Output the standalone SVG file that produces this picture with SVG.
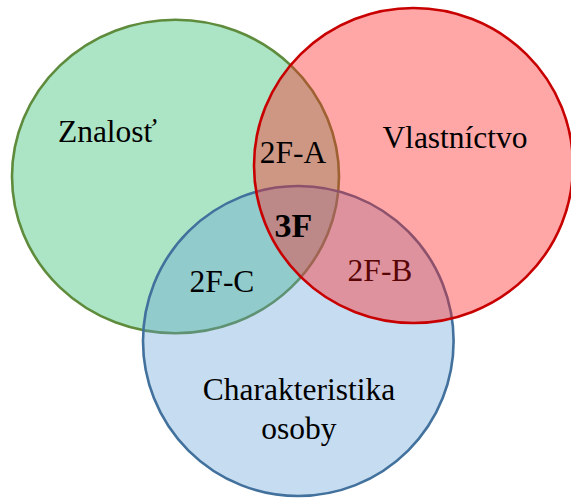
<svg xmlns="http://www.w3.org/2000/svg" width="571" height="498" viewBox="0 0 571 498">
  <style>
    text { font-size: 31.5px; fill: #000; text-anchor: middle; }
    .bold { font-weight: bold; font-size: 34px; }
    .dark { fill: #5a0505; }
    .ring { stroke-width: 2.6; }
  </style>
  <rect width="571" height="498" fill="#ffffff"/>
  <g id="znalost">
    <ellipse class="ring" cx="175.5" cy="176.5" rx="163.5" ry="156.8" fill="#ace5c5" stroke="#5e8b3c"/>
    <text font-family="Times New Roman" x="107.5" y="142">Znalosť</text>
  </g>
  <g id="charakteristika">
    <ellipse class="ring" cx="298.3" cy="341" rx="155.3" ry="155" fill="rgb(97,158,214)" fill-opacity="0.36" stroke="#41719c"/>
    <text font-family="Times New Roman" x="299" y="400">Charakteristika</text>
    <text font-family="Times New Roman" x="299" y="439">osoby</text>
  </g>
  <g id="vlastnictvo">
    <ellipse class="ring" cx="413.5" cy="165.5" rx="159.5" ry="157.5" fill="rgb(255,35,35)" fill-opacity="0.4" stroke="#c80000"/>
    <text font-family="Times New Roman" x="455" y="147.5">Vlastníctvo</text>
  </g>
  <g id="f2a">
    <text font-family="Times New Roman" x="293" y="162.5">2F-A</text>
  </g>
  <g id="f3">
    <text font-family="Times New Roman" class="bold" x="293.5" y="236.8">3F</text>
  </g>
  <g id="f2b">
    <text font-family="Times New Roman" class="dark" x="380" y="281">2F-B</text>
  </g>
  <g id="f2c">
    <text font-family="Times New Roman" x="222" y="292.3">2F-C</text>
  </g>
</svg>
